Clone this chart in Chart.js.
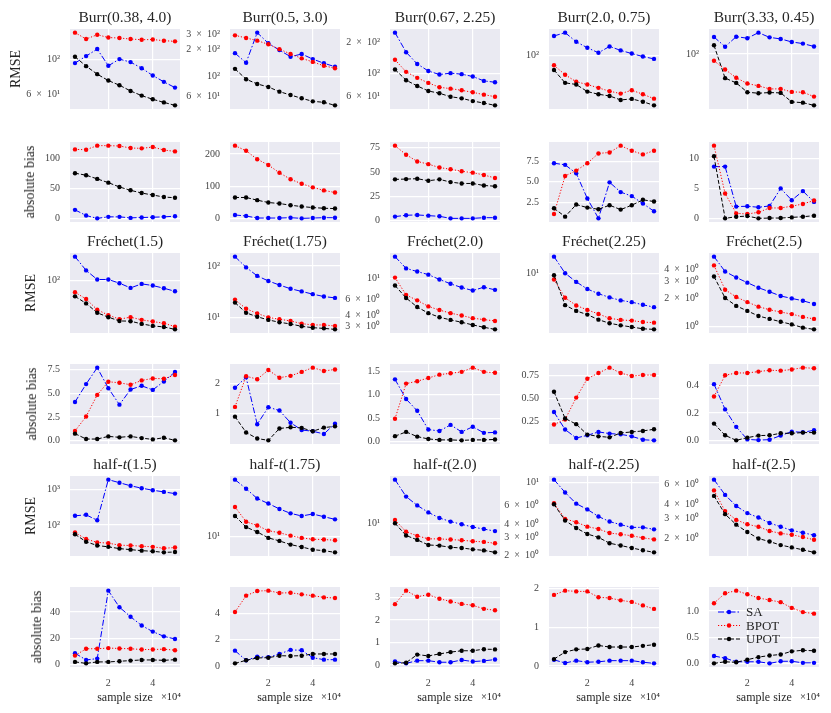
<!DOCTYPE html>
<html>
<head>
<meta charset="utf-8">
<script src="https://cdn.jsdelivr.net/npm/chart.js@4.4.0/dist/chart.umd.min.js"></script>
<style>
  body { margin: 0; background: #fff; width: 831px; height: 713px; position: relative; overflow: hidden;
         font-family: 'Liberation Serif', serif; color: #262626; }
  .panel { position: absolute; }
  .ttl { position: absolute; font-size: 15.5px; white-space: nowrap; transform: translate(-50%, -50%); }
  .ylab { position: absolute; font-size: 14px; white-space: nowrap; transform: translate(-50%, -50%) rotate(-90deg); }
  .xlab { position: absolute; font-size: 12px; white-space: nowrap; transform: translate(-50%, -50%); }
  .xoff { position: absolute; font-size: 10.5px; white-space: nowrap; transform: translate(-100%, -50%); }
</style>
</head>
<body>
<script>
// sample size (x 10^4)
const sampleSize = [0.5, 1, 1.5, 2, 2.5, 3, 3.5, 4, 4.5, 5];
const xTicks = [2, 4];

const burrTitles = ['Burr(0.38, 4.0)', 'Burr(0.5, 3.0)', 'Burr(0.67, 2.25)', 'Burr(2.0, 0.75)', 'Burr(3.33, 0.45)'];
const frechetTitles = ['Fréchet(1.5)', 'Fréchet(1.75)', 'Fréchet(2.0)', 'Fréchet(2.25)', 'Fréchet(2.5)'];
const halftTitles = ['half-<i>t</i>(1.5)', 'half-<i>t</i>(1.75)', 'half-<i>t</i>(2.0)', 'half-<i>t</i>(2.25)', 'half-<i>t</i>(2.5)'];

const seriesNames = ['SA', 'BPOT', 'UPOT'];

// ---- Burr ----
const burrRmseSA = [
  [95.2, 105.6, 117.2, 91.5, 101, 96.6, 88.3, 79.2, 72.1, 66.2],
  [183, 143, 311, 236, 198, 167, 179, 157, 141, 129],
  [248, 160, 123, 105, 97, 100, 97.8, 92.8, 84.1, 81.6],
  [194, 217, 160, 131, 111, 137, 120, 108, 97.8, 90.4],
  [177, 128, 179, 170, 205, 175, 166, 150, 142, 129]
];
const burrRmseBPOT = [
  [149.5, 136, 145, 139, 138, 136, 134.6, 135, 132.7, 131.4],
  [290, 271, 253, 230, 203, 179, 160, 146, 132, 124],
  [135, 103, 90, 80.4, 72.9, 70.7, 68.1, 65.1, 61.8, 59],
  [73, 53.3, 42.1, 38.5, 34.4, 30.8, 28.4, 31.8, 27.8, 24],
  [79.8, 59.7, 45.1, 37.2, 34.4, 31.1, 31.1, 28.1, 27.8, 24]
];
const burrRmseUPOT = [
  [104.6, 91, 80.8, 73.5, 68.6, 63, 58.8, 55.7, 53.2, 50.9],
  [122, 93.3, 82.6, 76.4, 67.7, 62.1, 57, 52.7, 51.4, 47.5],
  [108.6, 85.4, 75.1, 67.1, 63.7, 59, 56.9, 53.5, 51.2, 48.6],
  [62.4, 40.7, 38.5, 30.4, 27.8, 26.3, 23, 23.8, 21.7, 19.2],
  [134, 44.6, 38, 27.8, 26.9, 27.5, 27.2, 20.1, 19.6, 17.9]
];
const burrBiasSA = [
  [14.4, 5, 0.3, 2.8, 2.8, 1.1, 1.7, 2.2, 2.8, 3.9],
  [11.5, 8.3, 2, 2, 2, 3, 1, 2, 3, 3],
  [4.2, 5.6, 5.9, 5.2, 4.5, 2.4, 2.4, 2.4, 3.1, 3.1],
  [7.25, 7.05, 6.02, 2.95, 0.53, 4.92, 3.73, 3.24, 2.34, 1.39],
  [8.6, 8.6, 2.0, 2.06, 1.89, 2.11, 5.0, 3.06, 4.56, 2.78]
];
const burrBiasBPOT = [
  [114.4, 113.9, 120.6, 120.6, 120, 116.7, 116.1, 118.3, 113.3, 111.1],
  [226, 210, 184, 166, 142, 122, 108, 97, 87.5, 81],
  [77, 67.7, 60.8, 58, 54.5, 52.8, 50.7, 49.3, 46.9, 43.8],
  [1.07, 5.7, 6.35, 7.25, 8.44, 8.56, 9.39, 8.77, 8.32, 8.77],
  [12.06, 4.17, 0.89, 0.78, 1.06, 1.78, 1.78, 2.06, 2.44, 3.0]
];
const burrBiasUPOT = [
  [75, 71.7, 65.6, 59.4, 52.2, 46.7, 42.2, 38.9, 35.6, 34.4],
  [65.6, 65.6, 57.3, 50, 46.9, 41.7, 37.5, 34.4, 32.3, 31.3],
  [42.4, 42.7, 43.1, 41, 42.4, 39.6, 38.2, 38.2, 36.1, 35.4],
  [1.76, 0.74, 2.21, 1.84, 1.64, 2.13, 1.6, 2.13, 2.79, 2.58],
  [10.3, 0.06, 0.33, 0.44, 0.06, 0.11, 0.11, 0.22, 0.33, 0.5]
];

// ---- Frechet ----
const frechetRmseSA = [
  [248, 147, 104, 104, 90.3, 75.5, 88, 82.6, 74.5, 66.4],
  [152, 94.2, 64.6, 51.6, 43, 36.5, 32.4, 28.7, 25.8, 24.3],
  [17.5, 13, 12, 11.1, 9.83, 8.8, 8.01, 7.42, 8.08, 7.55],
  [17.5, 10.2, 7.69, 6.1, 5.24, 4.64, 4.21, 3.98, 3.65, 3.38],
  [5.49, 3.82, 3.3, 2.91, 2.57, 2.33, 2.1, 1.98, 1.87, 1.73]
];
const frechetRmseBPOT = [
  [63.9, 49.5, 32.9, 26.8, 23, 24.8, 22.4, 21, 19.7, 17.3],
  [22.5, 15, 12.2, 10.2, 9.4, 8.73, 7.74, 7.3, 7.3, 6.97],
  [10.3, 6.64, 5.79, 4.97, 4.53, 4.19, 3.95, 3.69, 3.56, 3.44],
  [8.3, 4.59, 3.57, 3.09, 2.71, 2.35, 2.23, 2.18, 2.08, 2.04],
  [4.43, 2.45, 2.05, 1.81, 1.62, 1.5, 1.42, 1.35, 1.26, 1.2]
];
const frechetRmseUPOT = [
  [54.8, 41.9, 29.3, 24.8, 21.5, 21.3, 19.2, 17.8, 17.1, 15.6],
  [19.7, 12.5, 10.5, 9.14, 8.22, 7.63, 6.87, 6.46, 6.27, 6],
  [8.43, 6.15, 4.89, 4.19, 3.78, 3.53, 3.33, 3.11, 2.93, 2.78],
  [9.57, 3.61, 2.99, 2.65, 2.25, 2.0, 1.87, 1.77, 1.67, 1.64],
  [3.38, 2.0, 1.65, 1.46, 1.29, 1.2, 1.12, 1.05, 0.97, 0.93]
];
const frechetBiasSA = [
  [4.09, 5.98, 7.72, 5.55, 3.81, 5.41, 5.8, 5.37, 6.26, 7.26],
  [1.85, 2.19, 0.65, 1.21, 1.10, 0.70, 0.46, 0.42, 0.33, 0.67],
  [1.33, 0.91, 0.66, 0.26, 0.23, 0.36, 0.21, 0.32, 0.19, 0.2],
  [0.353, 0.162, 0.07, 0.099, 0.136, 0.118, 0.110, 0.088, 0.051, 0.044],
  [0.412, 0.227, 0.099, 0.007, 0.002, 0.005, 0.035, 0.064, 0.059, 0.074]
];
const frechetBiasBPOT = [
  [1.03, 2.56, 4.84, 6.23, 6.12, 5.91, 6.37, 6.58, 6.55, 6.94],
  [1.22, 2.23, 2.13, 2.43, 2.18, 2.24, 2.37, 2.51, 2.40, 2.45],
  [0.49, 1.24, 1.29, 1.36, 1.43, 1.46, 1.49, 1.58, 1.49, 1.47],
  [0.217, 0.272, 0.511, 0.717, 0.779, 0.838, 0.779, 0.746, 0.757, 0.757],
  [0.321, 0.477, 0.494, 0.494, 0.504, 0.514, 0.511, 0.519, 0.533, 0.528]
];
const frechetBiasUPOT = [
  [0.75, 0.18, 0.18, 0.46, 0.36, 0.46, 0.28, 0.14, 0.32, 0.04],
  [0.90, 0.38, 0.18, 0.12, 0.51, 0.55, 0.53, 0.42, 0.54, 0.58],
  [0.12, 0.21, 0.11, 0.06, 0.04, 0.04, 0.03, 0.04, 0.04, 0.05],
  [0.574, 0.283, 0.221, 0.107, 0.088, 0.077, 0.125, 0.136, 0.147, 0.165],
  [0.123, 0.037, 0.0, 0.02, 0.035, 0.037, 0.052, 0.052, 0.057, 0.057]
];

// ---- half-t ----
const halftRmseSA = [
  [182, 194, 136, 1900, 1557, 1276, 1092, 956, 857, 767],
  [70, 51.3, 36.7, 30.9, 25.7, 22.1, 20.2, 21.6, 19.7, 18],
  [44.2, 24.8, 18.4, 14.5, 12, 10.6, 9.66, 8.81, 8.22, 7.67],
  [10.7, 8.05, 6.28, 5.53, 4.72, 4.22, 3.94, 3.71, 3.71, 3.55],
  [6.61, 4.85, 3.87, 3.35, 3.06, 2.74, 2.54, 2.36, 2.25, 2.14]
];
const halftRmseBPOT = [
  [61.4, 40.3, 32.4, 30.9, 27.1, 26.5, 25.4, 24.3, 22.2, 23.2],
  [27.5, 16.6, 14.6, 12.2, 11.4, 10.3, 9.55, 9.12, 9.02, 8.81],
  [11.2, 7.5, 6.53, 5.89, 5.89, 5.75, 5.62, 5.43, 5.31, 5.07],
  [6.33, 4.48, 4.16, 3.77, 3.58, 3.27, 3.18, 3.08, 2.94, 2.84],
  [5.31, 3.49, 2.92, 2.67, 2.54, 2.33, 2.22, 2.16, 2.06, 1.95]
];
const halftRmseUPOT = [
  [55, 33.8, 26.5, 24.3, 21.7, 20.3, 19, 18.2, 17, 17.4],
  [20.2, 13.8, 11.7, 9.55, 8.61, 7.59, 7.0, 6.38, 6.17, 5.82],
  [10, 6.61, 5.69, 4.79, 4.68, 4.42, 4.32, 4.12, 3.98, 3.72],
  [6.19, 4.32, 3.66, 3.2, 2.97, 2.61, 2.48, 2.35, 2.23, 2.13],
  [4.75, 3.28, 2.65, 2.28, 2.0, 1.88, 1.75, 1.67, 1.59, 1.51]
];
const halftBiasSA = [
  [8.7, 3.6, 4.6, 56.2, 43.6, 36.4, 29.7, 25.1, 21.5, 19.5],
  [1.16, 0.43, 0.71, 0.66, 0.91, 1.22, 1.19, 0.63, 0.48, 0.48],
  [0.15, 0.07, 0.19, 0.19, 0.12, 0.12, 0.22, 0.15, 0.18, 0.24],
  [0.16, 0.08, 0.14, 0.10, 0.11, 0.14, 0.14, 0.14, 0.10, 0.07],
  [0.14, 0.10, 0.03, 0.03, 0.03, 0.0, 0.04, 0.04, 0.01, 0.01]
];
const halftBiasBPOT = [
  [6.9, 12.1, 12.1, 12.6, 12.3, 12.1, 11.5, 11.5, 11.8, 11.0],
  [4.08, 5.32, 5.67, 5.70, 5.52, 5.54, 5.42, 5.32, 5.19, 5.14],
  [2.7, 3.3, 3.03, 3.12, 2.94, 2.82, 2.71, 2.65, 2.49, 2.43],
  [1.83, 1.94, 1.92, 1.92, 1.77, 1.75, 1.69, 1.65, 1.56, 1.47],
  [1.15, 1.34, 1.39, 1.32, 1.25, 1.21, 1.17, 1.06, 0.98, 0.95]
];
const halftBiasUPOT = [
  [2.1, 1.0, 2.1, 2.1, 2.6, 3.1, 3.6, 3.6, 3.3, 3.8],
  [0.2, 0.43, 0.61, 0.63, 0.78, 0.76, 0.78, 0.91, 0.91, 0.91],
  [0.07, 0.1, 0.46, 0.4, 0.49, 0.57, 0.63, 0.63, 0.70, 0.69],
  [0.18, 0.36, 0.43, 0.44, 0.53, 0.49, 0.49, 0.49, 0.52, 0.55],
  [0.0, 0.03, 0.02, 0.07, 0.12, 0.15, 0.17, 0.23, 0.25, 0.24]
];

// y tick labels shown on each panel
const burrRmseTicks = [[60, 100], [60, 100, 200, 300], [60, 100, 200], [100], [100]];
const burrBiasTicks = [[0, 50, 100], [0, 100, 200], [0, 25, 50, 75], [2.5, 5, 7.5], [0, 5, 10]];
const frechetRmseTicks = [[100], [10, 100], [3, 4, 6, 10], [10], [1, 2, 3, 4]];
const frechetBiasTicks = [[0, 2.5, 5, 7.5], [1, 2], [0, 0.5, 1, 1.5], [0.25, 0.5, 0.75], [0, 0.2, 0.4]];
const halftRmseTicks = [[100, 1000], [10], [10], [2, 3, 4, 6, 10], [2, 3, 4, 6]];
const halftBiasTicks = [[0, 20, 40], [0, 2, 4], [0, 1, 2, 3], [0, 1, 2], [0, 0.5, 1]];

// ---- styling / layout ----
const seriesColors = ['#0000ff', '#ff0000', '#000000'];
const seriesDash = [[6, 2, 1.5, 2], [1.2, 1.8], [4, 2]];
const colLeft = [70, 230, 390, 549, 709];
const rowTop = [29, 142, 253, 364, 476, 587];
const PW = 110, PH = 80;
const yLabelX = [16, 30, 31, 32, 31, 37];
const FONT = "'Liberation Serif', serif";
const BG = '#EAEAF2';

const SUP = { '0': '⁰', '1': '¹', '2': '²', '3': '³', '4': '⁴', '-': '⁻' };
function fmtLog(v) {
  const e = Math.floor(Math.log10(v) + 1e-9);
  const m = Math.round(v / Math.pow(10, e));
  const p = '10' + String(e).split('').map(c => SUP[c]).join('');
  return m === 1 ? p : m + '\u2002×\u2002' + p;
}
function isPow10(v) {
  const l = Math.log10(v);
  return Math.abs(l - Math.round(l)) < 1e-6;
}
function decimals(ticks) {
  return Math.max(...ticks.map(v => {
    const s = String(v), i = s.indexOf('.');
    return i < 0 ? 0 : s.length - i - 1;
  }));
}

const bgPlugin = {
  id: 'bg',
  beforeDraw(chart) {
    const { ctx, chartArea: a } = chart;
    ctx.save();
    ctx.fillStyle = BG;
    ctx.fillRect(a.left, a.top, a.right - a.left, a.bottom - a.top);
    ctx.restore();
  }
};

const legendPlugin = {
  id: 'lg',
  afterDraw(chart) {
    const { ctx, chartArea: a } = chart;
    seriesNames.forEach((name, i) => {
      const y = a.top + 25 + i * 13.5;
      ctx.save();
      ctx.strokeStyle = seriesColors[i];
      ctx.lineWidth = 1;
      ctx.setLineDash(seriesDash[i]);
      ctx.beginPath(); ctx.moveTo(a.left + 9, y); ctx.lineTo(a.left + 31, y); ctx.stroke();
      ctx.setLineDash([]);
      ctx.fillStyle = seriesColors[i];
      ctx.beginPath(); ctx.arc(a.left + 20, y, 2.2, 0, Math.PI * 2); ctx.fill();
      ctx.fillStyle = '#262626';
      ctx.font = '13px ' + FONT;
      ctx.textBaseline = 'middle';
      ctx.fillText(name, a.left + 37, y + 1);
      ctx.restore();
    });
  }
};

function addText(cls, html, x, y) {
  const d = document.createElement('div');
  d.className = cls;
  d.innerHTML = html;
  d.style.left = x + 'px';
  d.style.top = y + 'px';
  document.body.appendChild(d);
}

function makePanel(row, col, series, ticks, isLog, showX, withLegend) {
  // the y axis asks for ~16px above and below for its labels; give it that as padding
  const padL = 70, padT = 20, padR = 6, xh = showX ? 24 : 0, padB = showX ? 0 : 20;
  const div = document.createElement('div');
  div.className = 'panel';
  div.style.left = (colLeft[col] - padL) + 'px';
  div.style.top = (rowTop[row] - padT) + 'px';
  div.style.width = (padL + PW + padR) + 'px';
  div.style.height = (padT + PH + padB + xh) + 'px';
  const cv = document.createElement('canvas');
  div.appendChild(cv);
  document.body.appendChild(div);

  const all = [].concat(...series);
  const lo = Math.min(...all), hi = Math.max(...all);
  let ymin, ymax;
  if (isLog) {
    const a = Math.log10(lo), b = Math.log10(hi), m = (b - a) * 0.05;
    ymin = Math.pow(10, a - m); ymax = Math.pow(10, b + m);
  } else {
    const m = (hi - lo) * 0.05;
    ymin = lo - m; ymax = hi + m;
  }
  const dec = decimals(ticks);

  const datasets = series.map((vals, i) => ({
    label: seriesNames[i],
    data: sampleSize.map((x, k) => ({ x: x, y: vals[k] })),
    borderColor: seriesColors[i],
    backgroundColor: seriesColors[i],
    borderWidth: 1,
    borderDash: seriesDash[i],
    pointRadius: 2.2,
    pointBorderWidth: 0,
    pointBackgroundColor: seriesColors[i],
    order: 3 - i,
    clip: false
  }));

  new Chart(cv, {
    type: 'line',
    data: { datasets: datasets },
    options: {
      responsive: true,
      maintainAspectRatio: false,
      animation: false,
      events: [],
      layout: { padding: { top: padT, right: padR, left: 0, bottom: padB } },
      plugins: { legend: { display: false }, tooltip: { enabled: false } },
      scales: {
        x: {
          type: 'linear', bounds: 'data', min: 0.275, max: 5.225,
          afterBuildTicks: s => { s.ticks = xTicks.map(v => ({ value: v })); },
          afterFit: s => { s.height = xh; },
          grid: { color: '#ffffff', lineWidth: 1.2, drawTicks: false },
          border: { display: false },
          ticks: { display: showX, padding: 10, color: '#444', maxRotation: 0,
                   font: { family: FONT, size: 10 }, callback: v => String(v) }
        },
        y: {
          type: isLog ? 'logarithmic' : 'linear', bounds: 'data', min: ymin, max: ymax,
          afterBuildTicks: s => {
            s.ticks = ticks.filter(v => v >= ymin && v <= ymax).map(v => ({ value: v }));
          },
          afterFit: s => { s.width = padL; },
          grid: {
            color: c => (!isLog || (c.tick && isPow10(c.tick.value))) ? '#ffffff' : 'rgba(0,0,0,0)',
            lineWidth: 1.2, drawTicks: false
          },
          border: { display: false },
          ticks: { padding: 10, color: '#444', font: { family: FONT, size: 10 },
                   callback: v => isLog ? fmtLog(v) : Number(v).toFixed(dec) }
        }
      }
    },
    plugins: withLegend ? [bgPlugin, legendPlugin] : [bgPlugin]
  });
}

const families = [
  { titles: burrTitles, rmse: [burrRmseSA, burrRmseBPOT, burrRmseUPOT], bias: [burrBiasSA, burrBiasBPOT, burrBiasUPOT],
    rmseTicks: burrRmseTicks, biasTicks: burrBiasTicks },
  { titles: frechetTitles, rmse: [frechetRmseSA, frechetRmseBPOT, frechetRmseUPOT], bias: [frechetBiasSA, frechetBiasBPOT, frechetBiasUPOT],
    rmseTicks: frechetRmseTicks, biasTicks: frechetBiasTicks },
  { titles: halftTitles, rmse: [halftRmseSA, halftRmseBPOT, halftRmseUPOT], bias: [halftBiasSA, halftBiasBPOT, halftBiasUPOT],
    rmseTicks: halftRmseTicks, biasTicks: halftBiasTicks }
];

families.forEach((f, fi) => {
  const r1 = fi * 2, r2 = fi * 2 + 1;
  const last = fi === families.length - 1;
  for (let c = 0; c < 5; c++) {
    makePanel(r1, c, f.rmse.map(s => s[c]), f.rmseTicks[c], true, false, false);
    makePanel(r2, c, f.bias.map(s => s[c]), f.biasTicks[c], false, last, last && c === 4);
    addText('ttl', f.titles[c], colLeft[c] + PW / 2, rowTop[r1] - 12);
    if (last) {
      addText('xlab', 'sample size', colLeft[c] + PW / 2, 697);
      addText('xoff', '×10⁴', colLeft[c] + PW + 1, 696);
    }
  }
  addText('ylab', 'RMSE', yLabelX[r1], rowTop[r1] + PH / 2);
  addText('ylab', 'absolute bias', yLabelX[r2], rowTop[r2] + PH / 2);
});
</script>
</body>
</html>
